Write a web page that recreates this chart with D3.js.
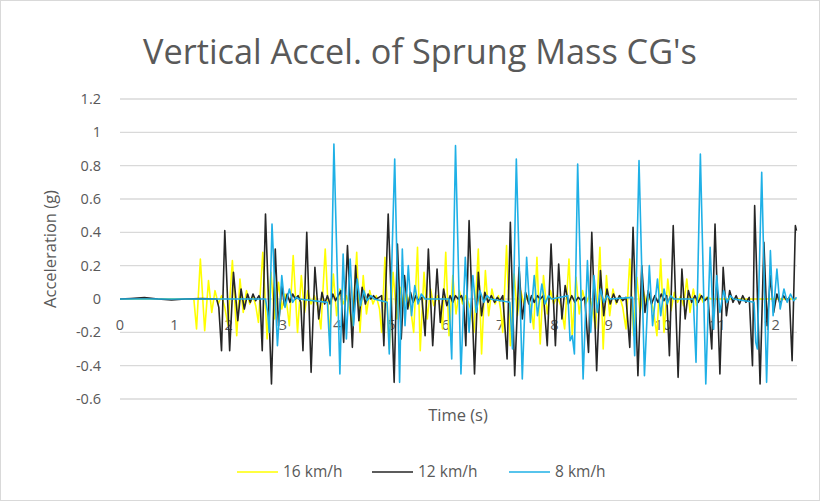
<html>
<head>
<meta charset="utf-8">
<script src="https://cdn.jsdelivr.net/npm/d3@7"></script>
<style>
  body { margin: 0; background: #fff; }
  text { font-family: "Open Sans", "Noto Sans", sans-serif; fill: #595959; }
</style>
</head>
<body>
<div id="chart"></div>
<script>
// series: [time (s), acceleration (g)]
var kmh16 = [
  [0,0],[1.36,0],[1.41,-0.18],[1.48,0.24],[1.56,-0.19],[1.63,0.11],[1.69,-0.08],[1.75,0.05],[1.81,-0.03],[1.87,0.02],
  [1.93,-0.05],[1.99,-0.16],[2.07,0.23],[2.15,-0.22],[2.21,0.12],[2.27,-0.08],[2.33,0.05],[2.39,-0.03],[2.45,0.02],
  [2.50,-0.04],[2.55,-0.14],[2.63,0.28],[2.71,-0.24],[2.78,0.16],[2.85,-0.12],[2.92,0.10],[2.98,-0.06],[3.04,0.03],
  [3.08,-0.05],[3.12,-0.16],[3.19,0.26],[3.27,-0.20],[3.34,0.14],[3.40,-0.08],[3.46,0.05],[3.52,-0.03],[3.58,0.02],
  [3.64,-0.04],[3.70,-0.18],[3.78,0.30],[3.86,-0.22],[3.93,0.15],[3.99,-0.10],[4.05,0.06],[4.11,-0.03],[4.17,0.02],
  [4.22,-0.05],[4.28,-0.16],[4.36,0.28],[4.42,-0.20],[4.48,0.14],[4.54,-0.09],[4.60,0.05],[4.66,-0.03],[4.72,0.02],
  [4.78,-0.06],[4.82,-0.20],[4.88,0.25],[4.96,-0.30],[5.03,0.16],[5.10,-0.12],[5.16,0.07],[5.22,-0.04],[5.28,0.03],
  [5.35,-0.05],[5.41,-0.20],[5.48,0.31],[5.53,-0.31],[5.60,0.16],[5.66,-0.12],[5.72,0.06],[5.78,-0.04],[5.85,0.02],
  [5.90,-0.05],[5.94,-0.18],[6.00,0.28],[6.06,-0.22],[6.13,0.14],[6.19,-0.09],[6.25,0.05],[6.31,-0.03],[6.37,0.02],
  [6.46,-0.06],[6.52,-0.20],[6.60,0.30],[6.66,-0.33],[6.73,0.17],[6.79,-0.10],[6.85,0.06],[6.91,-0.03],[6.97,0.02],
  [7.01,-0.06],[7.05,-0.20],[7.12,0.32],[7.19,-0.28],[7.26,0.15],[7.32,-0.10],[7.38,0.05],[7.44,-0.03],[7.50,0.02],
  [7.57,-0.05],[7.62,-0.18],[7.68,0.25],[7.74,-0.27],[7.80,0.14],[7.87,-0.09],[7.93,0.05],[7.99,-0.03],[8.05,0.02],
  [8.13,-0.05],[8.19,-0.18],[8.27,0.24],[8.33,-0.22],[8.40,0.13],[8.46,-0.09],[8.52,0.05],[8.58,-0.03],[8.64,0.02],
  [8.70,-0.05],[8.76,-0.18],[8.84,0.31],[8.90,-0.30],[8.96,0.14],[9.02,-0.10],[9.08,0.06],[9.14,-0.03],[9.20,0.02],
  [9.26,-0.05],[9.32,-0.18],[9.39,0.24],[9.46,-0.22],[9.52,0.13],[9.58,-0.08],[9.64,0.05],[9.70,-0.03],[9.76,0.02],
  [9.82,-0.06],[9.89,-0.22],[9.96,0.24],[10.02,-0.20],[10.09,0.12],[10.15,-0.07],[10.21,0.04],[10.27,-0.02],[10.33,0.02],
  [10.38,-0.04],[10.44,0.12],[10.50,-0.08],[10.56,0.06],[10.62,-0.04],[10.68,0.03],[10.74,-0.02],[10.80,0.01],[10.90,0],[12.46,0]
];
var kmh12 = [
  [0,0],[0.2,0.003],[0.45,0.008],[0.7,0],[0.95,-0.006],[1.2,0],[1.5,0.002],[1.78,0],
  [1.82,-0.05],[1.87,-0.31],[1.93,0.41],[2.02,-0.31],[2.09,0.16],[2.17,-0.13],[2.23,0.06],[2.29,-0.06],[2.35,0.03],[2.40,-0.02],[2.45,0.03],[2.50,-0.01],[2.56,0.02],
  [2.58,0],[2.62,-0.31],[2.68,0.51],[2.79,-0.51],[2.86,0.30],[2.92,-0.16],[2.98,0.08],[3.03,-0.04],[3.08,0.03],[3.13,-0.02],[3.18,0.03],[3.23,0],[3.28,0.02],[3.33,-0.02],
  [3.37,-0.31],[3.44,0.40],[3.52,-0.44],[3.59,0.19],[3.66,-0.12],[3.72,0.04],[3.77,-0.03],[3.82,0.02],[3.87,-0.03],[3.92,0.03],[3.97,-0.01],
  [4.02,0.02],[4.07,0.05],[4.12,-0.26],[4.19,0.32],[4.28,-0.29],[4.34,0.20],[4.40,-0.13],[4.46,0.07],[4.52,-0.03],[4.57,0.03],[4.62,0],[4.67,0.02],[4.72,0],[4.77,0.01],[4.82,0.02],
  [4.86,-0.28],[4.94,0.51],[5.05,-0.50],[5.11,0.33],[5.18,-0.24],[5.24,0.14],[5.30,-0.06],[5.35,0.04],[5.40,-0.02],[5.45,0.02],[5.50,-0.01],[5.56,0.01],
  [5.62,-0.22],[5.68,0.30],[5.76,-0.28],[5.84,0.18],[5.90,-0.14],[5.96,0.06],[6.02,-0.04],[6.08,0.02],[6.13,-0.02],[6.18,0.02],[6.23,0],[6.29,0.02],[6.33,-0.02],
  [6.37,-0.28],[6.43,0.47],[6.53,-0.45],[6.60,0.16],[6.66,-0.10],[6.72,0.04],[6.78,-0.02],[6.84,0.02],[6.90,-0.02],[6.95,0.01],[7.00,-0.01],[7.05,0.02],
  [7.13,-0.36],[7.19,0.46],[7.27,-0.46],[7.35,0.19],[7.41,-0.12],[7.47,0.04],[7.53,-0.03],[7.58,0.02],[7.63,-0.02],[7.69,0.02],[7.74,0],[7.80,0.02],
  [7.87,-0.28],[7.94,0.33],[8.02,-0.28],[8.08,0.21],[8.14,-0.12],[8.20,0.08],[8.26,-0.03],[8.32,0.02],[8.38,-0.02],[8.44,0.01],[8.50,-0.01],[8.56,0.01],
  [8.63,-0.32],[8.69,0.40],[8.78,-0.43],[8.85,0.17],[8.91,-0.10],[8.97,0.06],[9.03,-0.03],[9.09,0.03],[9.15,-0.02],[9.20,0.02],[9.26,-0.01],[9.32,0.01],
  [9.39,-0.29],[9.45,0.43],[9.54,-0.46],[9.61,0.20],[9.67,-0.08],[9.73,0.05],[9.79,-0.03],[9.85,0.02],[9.91,-0.02],[9.97,0.03],[10.02,-0.01],[10.07,0.02],
  [10.12,-0.34],[10.19,0.44],[10.28,-0.47],[10.35,0.18],[10.41,-0.12],[10.47,0.05],[10.53,-0.02],[10.59,0.02],[10.65,-0.02],[10.71,0.02],[10.77,-0.01],[10.83,0.01],
  [10.90,-0.30],[10.96,0.45],[11.05,-0.45],[11.11,0.19],[11.17,-0.10],[11.23,0.05],[11.29,-0.02],[11.35,0.02],[11.41,-0.03],[11.47,0.02],[11.53,-0.02],[11.59,0.01],
  [11.65,-0.40],[11.69,0.56],[11.79,-0.51],[11.86,0.34],[11.92,-0.16],[11.98,0.14],[12.04,-0.08],[12.10,0.03],[12.16,-0.03],[12.22,0.02],[12.28,-0.01],[12.33,0.01],
  [12.38,-0.37],[12.44,0.44],[12.46,0.41]
];
var kmh8 = [
  [0,0],[2.68,0],[2.72,-0.08],[2.75,-0.20],[2.80,0.45],[2.90,-0.28],[2.98,0.14],[3.04,-0.05],[3.12,0.06],[3.18,-0.02],[3.24,0.01],[3.30,0],
  [3.82,-0.02],[3.87,-0.34],[3.94,0.93],[4.05,-0.45],[4.11,0.27],[4.17,-0.24],[4.24,0.24],[4.30,-0.16],[4.37,0.12],[4.43,-0.04],[4.49,0.05],[4.55,-0.01],[4.62,0.02],[4.68,0],
  [4.92,-0.02],[4.96,-0.33],[5.06,0.84],[5.15,-0.50],[5.20,0.30],[5.25,-0.16],[5.31,0.20],[5.37,-0.10],[5.43,0.08],[5.49,-0.03],[5.55,0.03],[5.62,0],
  [6.06,0],[6.11,-0.36],[6.18,0.92],[6.28,-0.45],[6.36,0.25],[6.43,-0.20],[6.50,0.14],[6.56,-0.08],[6.63,0.05],[6.70,-0.02],[6.76,0.02],[6.82,0],
  [7.18,-0.02],[7.23,-0.30],[7.30,0.84],[7.41,-0.48],[7.49,0.25],[7.56,-0.14],[7.63,0.14],[7.69,-0.10],[7.77,0.09],[7.83,-0.03],[7.89,0.02],[7.95,0],
  [8.25,0.02],[8.29,-0.25],[8.33,-0.22],[8.37,-0.33],[8.43,0.81],[8.53,-0.48],[8.61,0.23],[8.67,-0.20],[8.73,0.14],[8.79,-0.08],[8.85,0.06],[8.91,-0.02],[8.97,0.02],[9.03,0],
  [9.44,0.01],[9.48,-0.34],[9.56,0.83],[9.66,-0.46],[9.75,0.20],[9.81,-0.16],[9.90,0.12],[9.96,-0.10],[10.02,0.06],[10.08,-0.03],[10.14,0.02],[10.20,0],
  [10.56,0],[10.61,-0.38],[10.69,0.87],[10.79,-0.51],[10.87,0.31],[10.93,-0.18],[10.99,0.14],[11.05,-0.08],[11.12,0.05],[11.18,-0.02],[11.24,0.02],[11.30,0],
  [11.68,-0.02],[11.71,-0.26],[11.74,-0.30],[11.82,0.76],[11.91,-0.50],[11.98,0.29],[12.03,-0.10],[12.10,0.18],[12.16,-0.06],[12.23,0.06],[12.29,-0.02],[12.35,0.03],[12.41,-0.01],[12.46,0.01]
];
var seriesNames = ["16 km/h", "12 km/h", "8 km/h"];
var seriesColors = ["#ffff00", "#262626", "#1fb0e6"];
var yTicks = [1.2, 1, 0.8, 0.6, 0.4, 0.2, 0, -0.2, -0.4, -0.6];
var xTicks = [0,1,2,3,4,5,6,7,8,9,10,11,12];
var title = "Vertical Accel. of Sprung Mass CG's";

var W = 820, H = 501;
var svg = d3.select("#chart").append("svg").attr("width", W).attr("height", H);

svg.append("rect").attr("x", 0.5).attr("y", 0.5).attr("width", W - 1).attr("height", H - 1)
  .attr("fill", "#fff").attr("stroke", "#d9d9d9");

var x = d3.scaleLinear().domain([0, 12.47]).range([120, 797]);
var y = d3.scaleLinear().domain([-0.6, 1.2]).range([399, 99]);

// gridlines
svg.append("g").selectAll("line").data(yTicks).enter().append("line")
  .attr("x1", x(0)).attr("x2", x(12.47))
  .attr("y1", function (d) { return y(d); }).attr("y2", function (d) { return y(d); })
  .attr("stroke", "#d9d9d9").attr("stroke-width", 1.3);

// y labels
svg.append("g").selectAll("text").data(yTicks).enter().append("text")
  .attr("x", 101).attr("y", function (d) { return y(d); })
  .attr("dy", "0.35em").attr("text-anchor", "end")
  .style("font-size", "14.5px")
  .text(function (d) { return d; });

// x labels (sit just under the zero line)
svg.append("g").selectAll("text").data(xTicks).enter().append("text")
  .attr("x", function (d) { return x(d); }).attr("y", 325)
  .attr("dy", "0.35em").attr("text-anchor", "middle")
  .style("font-size", "14.5px")
  .text(function (d) { return d; });

var line = d3.line()
  .x(function (d) { return x(d[0]); })
  .y(function (d) { return y(d[1]); });

[kmh16, kmh12, kmh8].forEach(function (s, i) {
  svg.append("path").datum(s)
    .attr("d", line)
    .attr("fill", "none")
    .attr("stroke", seriesColors[i])
    .attr("stroke-width", 1.6)
    .attr("stroke-linejoin", "round");
});

// title
var t = svg.append("text").attr("x", 420).attr("y", 64).attr("text-anchor", "middle")
  .style("font-size", "33px").text(title);
var tw = t.node().getComputedTextLength();
t.style("font-size", (33 * 554 / tw) + "px");

// axis titles
svg.append("text").attr("transform", "translate(56,249) rotate(-90)")
  .attr("text-anchor", "middle").style("font-size", "16.5px").text("Acceleration (g)");
svg.append("text").attr("x", 458).attr("y", 415).attr("dy", "0.35em")
  .attr("text-anchor", "middle").style("font-size", "16.5px").text("Time (s)");

// legend
var legX = [237, 372, 509];
seriesNames.forEach(function (n, i) {
  svg.append("line").attr("x1", legX[i]).attr("x2", legX[i] + 41)
    .attr("y1", 472).attr("y2", 472)
    .attr("stroke", seriesColors[i]).attr("stroke-width", 1.6);
  svg.append("text").attr("x", legX[i] + 46).attr("y", 472).attr("dy", "0.35em")
    .style("font-size", "15.5px").text(n);
});
</script>
</body>
</html>
